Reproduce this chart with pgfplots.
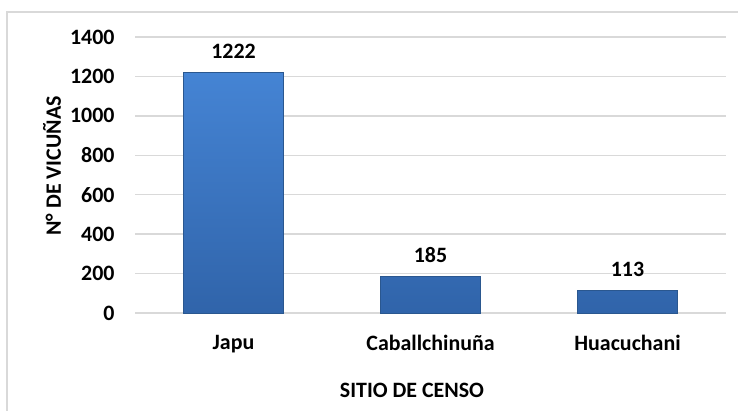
\documentclass[border=0pt]{standalone}
\usepackage{fontspec}
\setmainfont{Carlito}
\usepackage{pgfplots}
\pgfplotsset{compat=1.18}
\definecolor{gridgray}{HTML}{D9D9D9}
\definecolor{bartop}{HTML}{4584D4}
\definecolor{barbot}{HTML}{3064AA}
\definecolor{baredge}{HTML}{2A578F}

\begin{document}
\begin{tikzpicture}[x=1bp,y=1bp]
\path[use as bounding box] (0,0) rectangle (738,410);
\draw[gridgray, line width=1.5bp] (7,-5) -- (7,398) -- (745,398);
\begin{axis}[
    at={(135bp,97bp)}, anchor=south west,
    scale only axis,
    width=591bp, height=276bp,
    xmin=-0.5, xmax=2.5,
    ymin=0, ymax=1400,
    ytick={0,200,...,1400},
    xtick=data,
    xticklabels={Japu, Caballchinuña, Huacuchani},
    axis line style={draw=none},
    major tick length=0pt,
    ymajorgrids,
    grid style={gridgray, line width=1.3bp},
    font=\fontsize{22}{25}\selectfont\bfseries,
    /pgf/number format/assume math mode=true,
    /pgf/number format/set thousands separator={},
    yticklabel style={xshift=-17bp},
    xticklabel style={yshift=-19bp},
    ylabel={N° DE VICUÑAS},
    ylabel style={at={(axis description cs:-0.1404,0.533)}, anchor=center},
    xlabel={SITIO DE CENSO},
    xlabel style={at={(axis description cs:0.4687,-0.279)}, anchor=center},
    ybar,
    bar width=100bp,
    nodes near coords,
    every node near coord/.append style={font=\fontsize{22}{25}\selectfont\bfseries, yshift=10bp},
    clip=false,
]
\addplot[draw=baredge, line width=0.8bp, top color=bartop, bottom color=barbot] coordinates {
    (0,1222) (1,185) (2,113)
};
\end{axis}
\end{tikzpicture}
\end{document}
